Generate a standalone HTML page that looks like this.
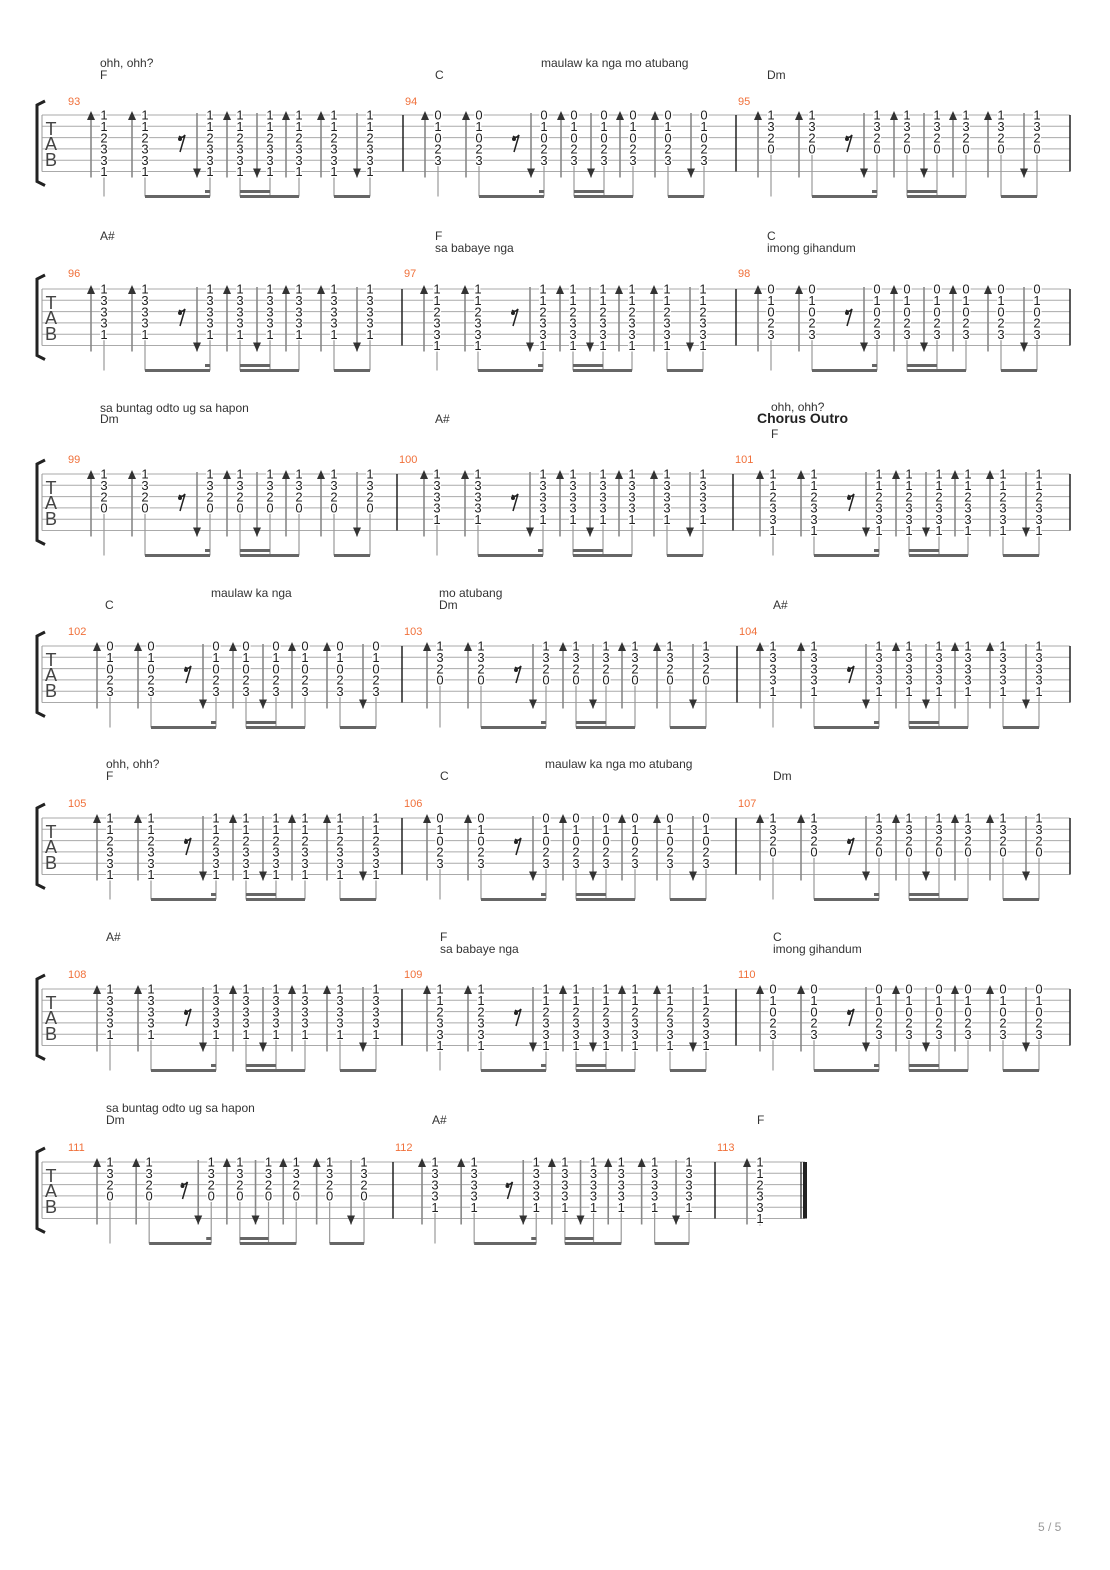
<!DOCTYPE html>
<html><head><meta charset="utf-8">
<style>
html,body{margin:0;padding:0;background:#fff;}
body{width:1110px;height:1570px;position:relative;overflow:hidden;font-family:"Liberation Sans",sans-serif;}
.t{position:absolute;font-size:12px;color:#333;line-height:12px;white-space:nowrap;transform:translateY(-6px);}
.b{font-weight:bold;font-size:14px;color:#222;transform:translateY(-7px);}
svg{position:absolute;left:0;top:0;}
</style></head><body>
<svg id="s" width="1110" height="1570" xmlns="http://www.w3.org/2000/svg"></svg>

<div class="t" style="left:100px;top:63px">ohh, ohh?</div>
<div class="t" style="left:100px;top:75px">F</div>
<div class="t" style="left:435px;top:75px">C</div>
<div class="t" style="left:541px;top:63px">maulaw ka nga mo atubang</div>
<div class="t" style="left:767px;top:75px">Dm</div>

<div class="t" style="left:100px;top:236px">A#</div>
<div class="t" style="left:435px;top:236px">F</div>
<div class="t" style="left:435px;top:248px">sa babaye nga</div>
<div class="t" style="left:767px;top:236px">C</div>
<div class="t" style="left:767px;top:248px">imong gihandum</div>

<div class="t" style="left:100px;top:408px">sa buntag odto ug sa hapon</div>
<div class="t" style="left:100px;top:419px">Dm</div>
<div class="t" style="left:435px;top:419px">A#</div>
<div class="t" style="left:771px;top:407px">ohh, ohh?</div>
<div class="t b" style="left:757px;top:419px">Chorus Outro</div>
<div class="t" style="left:771px;top:434px">F</div>

<div class="t" style="left:105px;top:605px">C</div>
<div class="t" style="left:211px;top:593px">maulaw ka nga</div>
<div class="t" style="left:439px;top:593px">mo atubang</div>
<div class="t" style="left:439px;top:605px">Dm</div>
<div class="t" style="left:773px;top:605px">A#</div>

<div class="t" style="left:106px;top:764px">ohh, ohh?</div>
<div class="t" style="left:106px;top:776px">F</div>
<div class="t" style="left:440px;top:776px">C</div>
<div class="t" style="left:545px;top:764px">maulaw ka nga mo atubang</div>
<div class="t" style="left:773px;top:776px">Dm</div>

<div class="t" style="left:106px;top:937px">A#</div>
<div class="t" style="left:440px;top:937px">F</div>
<div class="t" style="left:440px;top:949px">sa babaye nga</div>
<div class="t" style="left:773px;top:937px">C</div>
<div class="t" style="left:773px;top:949px">imong gihandum</div>

<div class="t" style="left:106px;top:1108px">sa buntag odto ug sa hapon</div>
<div class="t" style="left:106px;top:1120px">Dm</div>
<div class="t" style="left:432px;top:1120px">A#</div>
<div class="t" style="left:757px;top:1120px">F</div>

<div class="t" style="left:1038px;top:1527px;color:#999;">5 / 5</div>

<script>
var S=document.getElementById('s'),out='';
function L(x1,y1,x2,y2,c,w){out+='<line x1="'+x1+'" y1="'+y1+'" x2="'+x2+'" y2="'+y2+'" stroke="'+c+'" stroke-width="'+w+'"/>';}
function T(x,y,s,sz,c,a){out+='<text x="'+x+'" y="'+y+'" font-size="'+sz+'" fill="'+c+'" text-anchor="'+(a||'middle')+'" font-family="Liberation Sans,sans-serif">'+s+'</text>';}
var CH={F:[1,1,2,3,3,1],C:[0,1,0,2,3],Dm:[1,3,2,0],'A#':[1,3,3,3,1]};
var sys=[
 {num:101,top:115,end:1070,ms:[[93,'F',104,68],[94,'C',438,403],[95,'Dm',771,736]],s:1},
 {num:273,top:289,end:1070,ms:[[96,'A#',104,68],[97,'F',437,402],[98,'C',771,736]],s:1},
 {num:459,top:474,end:1070,ms:[[99,'Dm',104,68],[100,'A#',437,397],[101,'F',773,733]],s:1},
 {num:631,top:646,end:1070,ms:[[102,'C',110,68],[103,'Dm',440,402],[104,'A#',773,737]],s:1},
 {num:803,top:818,end:1070,ms:[[105,'F',110,68],[106,'C',440,402],[107,'Dm',773,736]],s:1},
 {num:974,top:989,end:1070,ms:[[108,'A#',110,68],[109,'F',440,402],[110,'C',773,736]],s:1},
 {num:1147,top:1162,end:805,ms:[[111,'Dm',110,68],[112,'A#',435,393],[113,'F',760,715]],s:0.955}
];
var OFF=[0,41,106,136,166,195,230,266],DIR=[1,1,0,1,0,1,1,0];
sys.forEach(function(q){
 var t=q.top,sp=11.3,bot=t+5*sp,by=bot+25;
 for(var i=0;i<6;i++)L(42,t+i*sp,q.end,t+i*sp,'#aaa',1);
 L(42,t,42,bot,'#999',1);
 out+='<path d="M45 '+(t-14)+' L37 '+(t-10)+' L37 '+(bot+10)+' L45 '+(bot+14)+'" fill="none" stroke="#222" stroke-width="3"/>';
 T(51,t+20,'T',18,'#444');T(51,t+35,'A',18,'#444');T(51,t+51,'B',18,'#444');
 q.ms.forEach(function(m,mi){
  var n=m[0],c=CH[m[1]],x0=m[2],bl=m[3];
  T(mi==0?68:bl+2,q.num+4,n,11,'#f0703a','start');
  if(mi>0)L(bl,t,bl,bot,'#222',1.5);
  var cnt=(n==113)?1:8;
  var xs=[];
  for(var k=0;k<cnt;k++){
   var x=x0+OFF[k]*q.s;xs.push(x);
   var ax=x-13,d=DIR[k];
   L(ax,t-2,ax,bot+6,'#888',1.6);
   if(d)out+='<path d="M'+(ax-4)+' '+(t+5)+' L'+(ax+4)+' '+(t+5)+' L'+ax+' '+(t-4)+'Z" fill="#333"/>';
   else out+='<path d="M'+(ax-4)+' '+(bot-3)+' L'+(ax+4)+' '+(bot-3)+' L'+ax+' '+(bot+6)+'Z" fill="#333"/>';
   c.forEach(function(v,j){out+='<text x="'+x+'" y="'+(t+j*sp+4.7)+'" font-size="13" text-anchor="middle" fill="#222" stroke="#fff" stroke-width="3" paint-order="stroke" font-family="Liberation Sans,sans-serif">'+v+'</text>';});
   var ly=t+(c.length-1)*sp+6;
   L(x,ly,x,n==113?ly+1:by,'#999',1.2);
  }
  if(cnt==8){
   var r=x0+78*q.s;
   out+='<circle cx="'+(r-2)+'" cy="'+(t+24)+'" r="2" fill="#222"/><path d="M'+(r-3)+' '+(t+21)+' Q'+r+' '+(t+24)+' '+(r+3)+' '+(t+20)+' L'+(r-2)+' '+(t+37)+'" stroke="#222" stroke-width="1.5" fill="none"/>';
   L(xs[1],by,xs[2],by,'#666',3);
   L(xs[2]-5,by-5,xs[2],by-5,'#666',3);
   L(xs[3],by,xs[5],by,'#666',3);
   L(xs[3],by-5,xs[4],by-5,'#666',3);
   L(xs[6],by,xs[7],by,'#666',3);
  }
 });
 if(q.end==1070)L(1070,t,1070,bot,'#222',1.5);
 else{L(801,t,801,bot,'#222',1.2);L(805,t,805,bot,'#222',4);}
});
S.innerHTML=out;
</script>
</body></html>
